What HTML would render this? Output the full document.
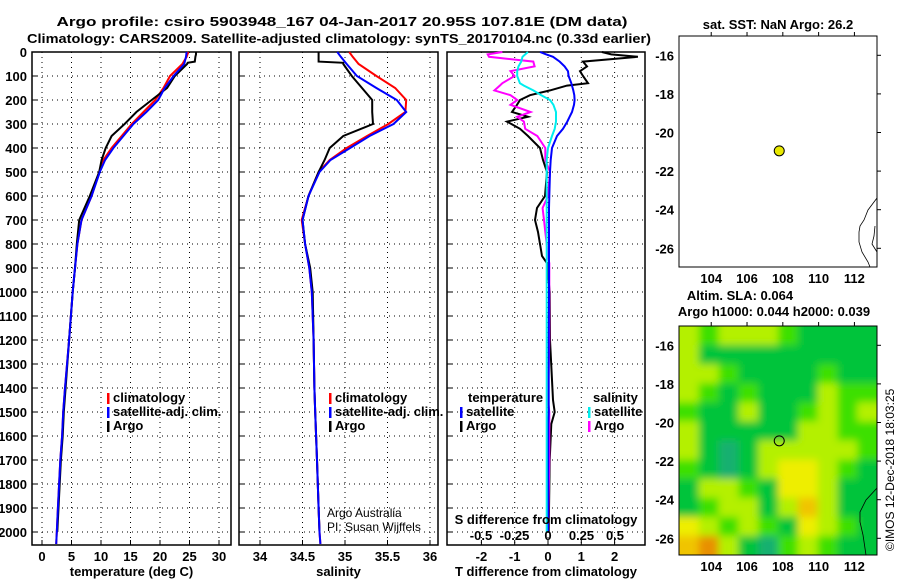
<!DOCTYPE html>
<html><head><meta charset="utf-8"><style>
body{margin:0;background:#fff;}
svg{display:block;font-family:"Liberation Sans",sans-serif;}
.b{font-weight:bold;font-size:13px;}
</style></head><body>
<svg id="c" width="900" height="580" xmlns="http://www.w3.org/2000/svg"></svg>
<script>
// ---- data ----
const depthT = [0,20,50,100,150,200,250,300,350,400,450,500,600,700,800,900,1000,1200,1400,1500,1600,1700,1800,1900,2000,2050];
const tempClim = [24.8,24.5,23.8,21.7,20.6,19.2,17.2,15.2,13.5,11.8,10.4,9.7,8.4,6.7,6.0,5.6,5.2,4.6,3.9,3.6,3.4,3.1,2.9,2.7,2.5,2.4];
const tempSat  = [24.5,24.4,24.1,22.3,20.8,19.7,17.7,15.5,13.8,12.1,10.7,9.8,8.4,6.7,6.0,5.6,5.2,4.6,3.9,3.6,3.4,3.1,2.9,2.7,2.5,2.4];
const depthA = [0,10,20,40,45,50,100,150,200,250,300,350,400,450,500,600,700,800,900,1000,1200,1400,1500,1600,1700,1800,1900,2000];
const tempArgo = [26.1,26.1,26.0,25.9,24.7,24.6,22.5,21.2,18.6,16.0,14.0,11.8,10.8,10.1,9.7,8.1,6.3,5.9,5.6,5.2,4.6,4.0,3.7,3.5,3.2,3.0,2.8,2.6];
const salClim = [35.05,35.09,35.16,35.37,35.59,35.72,35.71,35.51,35.26,35.02,34.82,34.69,34.57,34.49,34.53,34.58,34.61,34.63,34.64,34.65,34.66,34.67,34.68,34.69,34.70,34.71];
const salSat  = [34.91,34.95,35.02,35.14,35.37,35.61,35.72,35.57,35.29,35.06,34.83,34.70,34.57,34.50,34.53,34.58,34.61,34.63,34.64,34.65,34.66,34.67,34.68,34.69,34.70,34.71];
const salArgo = [34.69,34.69,34.69,34.69,34.98,34.98,35.08,35.20,35.32,35.32,35.33,34.98,34.82,34.76,34.69,34.57,34.50,34.53,34.59,34.62,34.63,34.64,34.65,34.66,34.67,34.68,34.69,34.70];
const depthD = [0,10,20,40,60,80,100,130,140,160,180,200,220,250,270,290,320,350,400,450,500,600,650,700,750,800,850,880,1000,1200,1450,1500,1550,1700,2000];
const dTArgo = [1.62,1.9,2.7,1.05,1.17,0.96,1.05,1.2,0.57,0.06,-0.54,-0.84,-0.93,-1.08,-0.6,-1.23,-0.84,-0.6,-0.24,-0.15,-0.03,-0.09,-0.33,-0.39,-0.3,-0.24,-0.18,-0.03,0.05,0.06,0.15,0.2,0.1,0.05,0.02];
const dTSat  = [-0.24,-0.05,0.15,0.35,0.5,0.6,0.62,0.7,0.72,0.76,0.79,0.8,0.78,0.72,0.65,0.58,0.45,0.27,0.12,0.08,0.06,0.04,0.03,0.03,0.03,0.03,0.03,0.03,0.03,0.02,0.02,0.02,0.01,0.01,0.0];
const dSArgo = [-0.34,-0.45,-0.44,-0.11,-0.1,-0.28,-0.25,-0.34,-0.36,-0.4,-0.28,-0.23,-0.28,-0.13,-0.23,-0.18,-0.17,-0.08,-0.02,-0.02,0.015,0.0,-0.04,-0.03,-0.02,-0.01,0.0,0.01,0.01,0.01,0.0,0.01,0.01,0.01,0.0];
const dSSat  = [-0.15,-0.17,-0.19,-0.2,-0.22,-0.23,-0.23,-0.21,-0.18,-0.11,-0.05,0.015,0.04,0.06,0.06,0.06,0.05,0.03,0.0,-0.01,-0.01,-0.01,-0.01,-0.01,-0.01,-0.01,-0.01,-0.01,-0.01,-0.01,-0.01,-0.01,-0.01,-0.01,-0.01];
const depthTicks = [0,100,200,300,400,500,600,700,800,900,1000,1100,1200,1300,1400,1500,1600,1700,1800,1900,2000];
const tTicks = [0,5,10,15,20,25,30];
const sTicks = [34,34.5,35,35.5,36];
const dTTicks = [-2,-1,0,1,2];
const dSTicks = [-0.5,-0.25,0,0.25,0.5];
const lonTicks = [104,106,108,110,112];
const latTicks = [-16,-18,-20,-22,-24,-26];
const argoLon = 107.8, argoLat = -20.95;
const slaGrid = [
[3,2,3,3,3,2,1,1,1,1],
[3,1,1,1,1,1,1,1,1,1],
[3,3,2,1,1,1,1,2,1,1],
[3,2,1,2,1,1,1,3,2,2],
[2,1,1,3,1,1,2,3,2,3],
[3,1,1,1,1,1,3,3,2,2],
[3,1,0,1,3,3,3,3,3,2],
[2,1,0,1,3,4,4,3,2,1],
[1,3,3,2,1,4,4,3,1,1],
[1,2,3,3,1,3,5,3,1,1],
[4,3,2,3,2,1,4,3,2,1],
[5,6,3,1,0,2,3,2,1,1]];
const slaColors = ['#12b070','#00c43a','#3ce000','#b4f000','#eeee00','#f0c400','#e89000'];

// ---- helpers ----
const svg = document.getElementById('c');
const NS = 'http://www.w3.org/2000/svg';
function el(tag, attrs, parent){const e=document.createElementNS(NS,tag);for(const k in attrs)e.setAttribute(k,attrs[k]);(parent||svg).appendChild(e);return e;}
function txt(x,y,s,anchor,cls,parent,size){const t=el('text',{x:x,y:y,'text-anchor':anchor||'start'},parent);if(cls)t.setAttribute('class',cls);if(size)t.setAttribute('font-size',size);t.textContent=s;return t;}
const yD = d => 52 + d*0.24;
const PT = {x0:32,x1:231}, PS={x0:239,x1:438}, PD={x0:447,x1:645};
const xT = v => 42 + v*5.9;
const xS = v => 260 + (v-34)*85;
const xDT = v => 548 + v*33.3;
const xDS = v => 548 + v*134;

// titles
let t1 = txt(342,26,'Argo profile: csiro 5903948_167 04-Jan-2017 20.95S 107.81E (DM data)','middle','b',null,16);
t1.setAttribute('textLength','571');
t1.setAttribute('lengthAdjust','spacingAndGlyphs');


let t2 = txt(339,43,'Climatology: CARS2009. Satellite-adjusted climatology: synTS_20170104.nc (0.33d earlier)','middle','b',null,16);
t2.setAttribute('textLength','624');
t2.setAttribute('lengthAdjust','spacingAndGlyphs');



function panel(P, name, xticks, xf, tickFmt, xlabel){
  const g = el('g',{});
  
  
  const y0=52,y1=545;
  depthTicks.forEach(d=>{el('line',{x1:P.x0,x2:P.x1,y1:yD(d),y2:yD(d),stroke:'#000','stroke-dasharray':'1,4','stroke-width':1},g);
    el('line',{x1:P.x0,x2:P.x0+5,y1:yD(d),y2:yD(d),stroke:'#000'},g);});
  xticks.forEach(v=>{const x=xf(v);el('line',{x1:x,x2:x,y1:y0,y2:y1,stroke:'#000','stroke-dasharray':'1,4'},g);
    el('line',{x1:x,x2:x,y1:y1,y2:y1-5,stroke:'#000'},g);
    if(tickFmt) txt(x,561,tickFmt(v),'middle','b',g);});
  el('rect',{x:P.x0,y:y0,width:P.x1-P.x0,height:y1-y0,fill:'none',stroke:'#000','stroke-width':1.5},g);
  if(xlabel){const l=txt((P.x0+P.x1)/2,576,xlabel,'middle','b',g);}
  return g;
}
function line(g, depths, vals, xf, color, name){
  const pts = depths.map((d,i)=>xf(vals[i]).toFixed(1)+','+yD(d).toFixed(1)).join(' ');
  const p = el('polyline',{points:pts,fill:'none',stroke:color,'stroke-width':2},g);
  
  
}
function legend(g,x,y,color,label,name){
  el('rect',{x:x,y:y-9,width:2.5,height:11,fill:color},g);
  const t=txt(x+6,y,label,'start','b',g);
  
  
}

// temperature panel
const gT = panel(PT,'temperature-panel',tTicks,xT,v=>String(v),'temperature (deg C)');
depthTicks.forEach(d=>{txt(27,yD(d)+5,String(d),'end','b',gT);});
line(gT,depthT,tempClim,xT,'#f00','temp-climatology-line');
line(gT,depthA,tempArgo,xT,'#000','temp-argo-line');
line(gT,depthT,tempSat,xT,'#00f','temp-satellite-line');
legend(gT,107,402,'#f00','climatology','legend-climatology');
legend(gT,107,416,'#00f','satellite-adj. clim.','legend-satellite');
legend(gT,107,430,'#000','Argo','legend-argo');

// salinity panel
const gS = panel(PS,'salinity-panel',sTicks,xS,v=>String(v),'salinity');
line(gS,depthT,salClim,xS,'#f00','sal-climatology-line');
line(gS,depthA,salArgo,xS,'#000','sal-argo-line');
line(gS,depthT,salSat,xS,'#00f','sal-satellite-line');
legend(gS,329,402,'#f00','climatology','legend-climatology-s');
legend(gS,329,416,'#00f','satellite-adj. clim.','legend-satellite-s');
legend(gS,329,430,'#000','Argo','legend-argo-s');
let ca=txt(327,517,'Argo Australia','start',null,gS,12);
let cp=txt(327,531,'PI: Susan Wijffels','start',null,gS,12);

// difference panel
const gD = panel(PD,'difference-panel',dTTicks,xDT,v=>String(v),'T difference from climatology');
line(gD,depthD,dTArgo,xDT,'#000','dt-argo-line');
line(gD,depthD,dSArgo,xDS,'#f0f','ds-argo-line');
line(gD,depthD,dTSat,xDT,'#00f','dt-satellite-line');
line(gD,depthD,dSSat,xDS,'#0ee','ds-satellite-line');
let lt=txt(468,402,'temperature','start','b',gD);
legend(gD,460,416,'#00f','satellite','legend-t-satellite');
legend(gD,460,430,'#000','Argo','legend-t-argo');
let ls=txt(593,402,'salinity','start','b',gD);
legend(gD,588,416,'#0ee','satellite','legend-s-satellite');
legend(gD,588,430,'#f0f','Argo','legend-s-argo');
let sdl=txt(546,524,'S difference from climatology','middle','b',gD);
dSTicks.forEach(v=>{txt(xDS(v),540,String(v),'middle','b',gD);});

// maps
const lonX = (lon)=>679 + (lon-102.2)*17.9;
function mapFrame(top,name){
  const g=el('g',{});
  
  
  const latY = lat => top + (-15.0 - lat)*19.3;
  return {g, latY};
}
// map 1
const m1 = mapFrame(36,'sst-map');
let mt1=txt(778,29,'sat. SST: NaN Argo: 26.2','middle','b',m1.g);
el('rect',{x:679,y:36,width:198,height:231,fill:'#fff',stroke:'#000','stroke-width':1},m1.g);
el('polyline',{points:'877,198 868,210 864,220 860,226 859,232 859,242 862,252 868,262 870,267',fill:'none',stroke:'#000','stroke-width':0.8},m1.g);
el('polyline',{points:'875,226 874,236 872,244 877,252',fill:'none',stroke:'#000','stroke-width':0.8},m1.g);
// map 2
const m2 = mapFrame(326,'sla-map');
let mt2=txt(740,300,'Altim. SLA: 0.064','middle','b',m2.g);
let mt3=txt(774,316,'Argo h1000: 0.044 h2000: 0.039','middle','b',m2.g);
el('filter',{id:'bl',x:'-10%',y:'-10%',width:'120%',height:'120%'},el('defs',{},m2.g)).appendChild((()=>{const f=document.createElementNS(NS,'feGaussianBlur');f.setAttribute('stdDeviation','4');return f;})());
el('clipPath',{id:'cp2'},svg).appendChild((()=>{const r=document.createElementNS(NS,'rect');r.setAttribute('x',679);r.setAttribute('y',326);r.setAttribute('width',198);r.setAttribute('height',229);return r;})());
const hg = el('g',{'clip-path':'url(#cp2)'},m2.g);
const hb = el('g',{filter:'url(#bl)'},hg);
const cw=198/slaGrid[0].length, ch=229/slaGrid.length;
slaGrid.forEach((row,r)=>row.forEach((v,c)=>{
  const cell=el('rect',{x:679+c*cw-(c==0?12:0),y:326+r*ch-(r==0?12:0),width:cw+1+(c==0||c==row.length-1?12:0),height:ch+1+(r==0||r==slaGrid.length-1?12:0),fill:slaColors[v]},hb);
  
  
}));
el('polyline',{points:'877,488 866,500 860,512 860,522 863,535 866,555',fill:'none',stroke:'#000','stroke-width':0.8},hg);
el('rect',{x:679,y:326,width:198,height:229,fill:'none',stroke:'#000','stroke-width':1},m2.g);

[[m1,36,267],[m2,326,555]].forEach(([m,top,bot])=>{
  lonTicks.forEach(lon=>{const x=lonX(lon);
    el('line',{x1:x,x2:x,y1:top,y2:top-4,stroke:'#000'},m.g);
    txt(x,bot+16,String(lon),'middle','b',m.g);});
  latTicks.forEach(lat=>{const y=m.latY(lat);
    el('line',{x1:877,x2:881,y1:y,y2:y,stroke:'#000'},m.g);
    txt(674,y+5,String(lat),'end','b',m.g);});
  const dot=el('circle',{cx:lonX(argoLon),cy:m.latY(argoLat),r:5,fill:top==36?'#e8e800':'none',stroke:'#000','stroke-width':1},m.g);
  
  
});

const cr=el('text',{x:0,y:0,transform:'translate(894,551) rotate(-90)','font-size':12});
cr.textContent='©IMOS 12-Dec-2018 18:03:25';


</script>
</body></html>
